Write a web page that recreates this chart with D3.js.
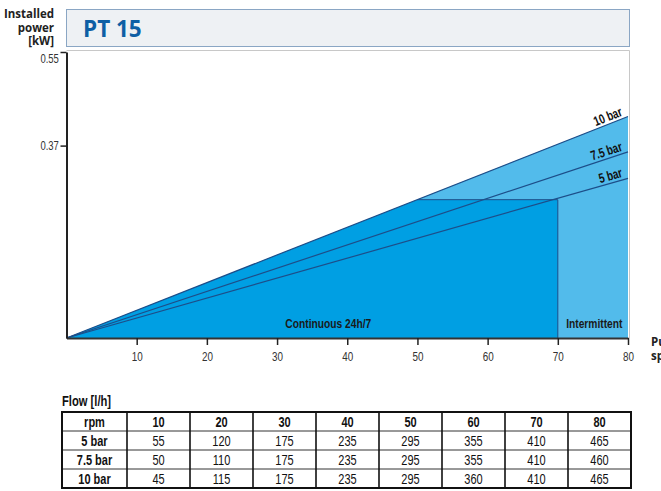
<!DOCTYPE html>
<html><head><meta charset="utf-8">
<script src="https://cdn.jsdelivr.net/npm/d3@7"></script>
<style>
body{margin:0;background:#fff;}
svg{display:block;}
</style></head>
<body><svg id="c" width="661" height="491"></svg>
<script>
// ---- data ----
const chartTitle = "PT 15";
const xTicks = [10, 20, 30, 40, 50, 60, 70, 80];
const yTicks = [0.37, 0.55];
const seriesNames = ["10 bar", "7.5 bar", "5 bar"];
const seriesPowerAt0 = [0, 0, 0];
const seriesPowerAt80 = [0.426, 0.358, 0.307];
const continuousKneeRpm = 50;
const continuousEndRpm = 70;
const continuousPower = 0.266;
const zoneLabels = ["Continuous 24h/7", "Intermittent"];
const tableRowNames = ["5 bar", "7.5 bar", "10 bar"];
const flow5 = [55, 120, 175, 235, 295, 355, 410, 465];
const flow75 = [50, 110, 175, 235, 295, 355, 410, 460];
const flow10 = [45, 115, 175, 235, 295, 360, 410, 465];

// ---- drawing ----
const svg = d3.select("#c");
const cond = "'Liberation Sans','DejaVu Sans',sans-serif";
const SX = 0.76; // horizontal condensing
const x = d3.scaleLinear().domain([0, 80]).range([66.5, 628]);
const y = d3.scaleLinear().domain([0, 0.55]).range([338, 52]);

const darkFill = "#009fe3", lightFill = "#52bbeb", lineCol = "#1d4e89";

function ctext(parent, px, py, t, opts) {
  opts = opts || {};
  return parent.append("text")
    .attr("transform", `translate(${px},${py})${opts.rot ? ` rotate(${opts.rot})` : ""} scale(${opts.sx || SX},1)`)
    .attr("text-anchor", opts.anchor || "start")
    .attr("font-family", cond).attr("font-weight", opts.bold ? "bold" : "normal")
    .attr("font-size", opts.size || 12).attr("fill", opts.fill || "#111").text(t);
}

// header
svg.append("rect").attr("x", 66.5).attr("y", 9.5).attr("width", 563).attr("height", 37)
  .attr("fill", "#eef1f4").attr("stroke", "#8aa6c4").attr("stroke-width", 1);
svg.append("text").attr("x", 83).attr("y", 37).text(chartTitle)
  .attr("font-family", "'Open Sans',sans-serif").attr("font-weight", "bold")
  .attr("font-size", 22.5).attr("fill", "#0e5fa5");

// y title
["Installed", "power", "[kW]"].forEach((t, i) => {
  svg.append("text").attr("x", 54).attr("y", 18 + i * 13.5).attr("text-anchor", "end")
    .attr("font-family", "'Open Sans',sans-serif").attr("font-weight", "bold")
    .attr("font-size", 11.5).attr("fill", "#222").text(t);
});

// plot frame (top + right)
svg.append("path").attr("d", `M${x(0)},50.5H${x(80) + 1.5}V${y(0)}`)
  .attr("fill", "none").attr("stroke", "#c8c8c8").attr("stroke-width", 1);

const topEnd = d3.max(seriesPowerAt80);
// light (intermittent) area
svg.append("path")
  .attr("d", d3.line()([[x(0), y(0)], [x(80), y(topEnd)], [x(80), y(0)]]) + "Z")
  .attr("fill", lightFill);
// dark (continuous) area
svg.append("path")
  .attr("d", d3.line()([[x(0), y(0)], [x(continuousKneeRpm), y(continuousPower)],
    [x(continuousEndRpm), y(continuousPower)], [x(continuousEndRpm), y(0)]]) + "Z")
  .attr("fill", darkFill);
// continuous boundary
svg.append("path")
  .attr("d", d3.line()([[x(continuousKneeRpm), y(continuousPower)],
    [x(continuousEndRpm), y(continuousPower)], [x(continuousEndRpm), y(0)]]))
  .attr("fill", "none").attr("stroke", lineCol).attr("stroke-width", 1);

// series lines + labels
seriesNames.forEach((n, i) => {
  const x0 = x(0), y0 = y(seriesPowerAt0[i]), x1 = x(80), y1 = y(seriesPowerAt80[i]);
  svg.append("line").attr("x1", x0).attr("y1", y0).attr("x2", x1).attr("y2", y1)
    .attr("stroke", lineCol).attr("stroke-width", 1.2);
  const ang = Math.atan2(y1 - y0, x1 - x0) * 180 / Math.PI;
  const lx = x(79.3), ly = y(seriesPowerAt80[i] * 79.3 / 80) - 3;
  ctext(svg, lx, ly, n, {rot: ang, anchor: "end", bold: true, size: 13.5, sx: 0.74});
});

// zone labels
ctext(svg, x(37.3), 328, zoneLabels[0], {anchor: "middle", bold: true, size: 13.5, fill: "#1a1a1a"});
ctext(svg, x(75.2), 328, zoneLabels[1], {anchor: "middle", bold: true, size: 13.5, fill: "#1a1a1a"});

// x axis
const gx = svg.append("g").attr("transform", `translate(0,${y(0)})`)
  .call(d3.axisBottom(x).tickValues(xTicks).tickSize(7).tickSizeOuter(0).tickPadding(7));
gx.select(".domain").attr("stroke", "#333").attr("stroke-width", 2);
gx.selectAll(".tick line").attr("stroke", "#222").attr("stroke-width", 1.5);
gx.selectAll(".tick text").attr("font-family", cond).attr("font-size", 13)
  .attr("fill", "#333").attr("transform", `scale(${SX},1)`);

// y axis
const gy = svg.append("g").attr("transform", `translate(${x(0)},0)`)
  .call(d3.axisLeft(y).tickValues(yTicks).tickSize(6).tickSizeOuter(0).tickPadding(4).tickFormat(d3.format(".2f")));
gy.select(".domain").attr("stroke", "#222").attr("stroke-width", 2);
gy.selectAll(".tick line").attr("stroke", "#222").attr("stroke-width", 1.5);
gy.selectAll(".tick text").attr("font-family", cond).attr("font-size", 12.5)
  .attr("fill", "#333").attr("transform", `scale(${SX},1)`)
  .attr("dy", d => d === 0.55 ? "0.85em" : "0.35em");

// x title (cut off at the right edge, as in the reference)
["Pump", "speed"].forEach((t, i) => {
  svg.append("text").attr("x", 651).attr("y", 346 + i * 13.5)
    .attr("font-family", "'Open Sans',sans-serif").attr("font-weight", "bold")
    .attr("font-size", 11.5).attr("fill", "#222").text(t);
});

// table
ctext(svg, 62, 406, "Flow [l/h]", {bold: true, size: 14, sx: 0.8});
const tx0 = 62, c1w = 65, cw = 63, ty0 = 412, rh = 19;
const rows = [["rpm", ...xTicks], [tableRowNames[0], ...flow5], [tableRowNames[1], ...flow75], [tableRowNames[2], ...flow10]];
const colX = i => i === 0 ? tx0 : tx0 + c1w + (i - 1) * cw;
const colW = i => i === 0 ? c1w : cw;
const tw = c1w + 8 * cw;
const tg = svg.append("g");
rows.forEach((r, ri) => {
  r.forEach((v, ci) => {
    ctext(tg, colX(ci) + colW(ci) / 2, ty0 + ri * rh + 14.5, v,
      {anchor: "middle", bold: (ri === 0 || ci === 0), size: 14.5});
  });
  if (ri > 0) tg.append("line").attr("x1", tx0).attr("x2", tx0 + tw)
    .attr("y1", ty0 + ri * rh).attr("y2", ty0 + ri * rh).attr("stroke", "#333").attr("stroke-width", 1);
});
for (let ci = 1; ci < 9; ci++) {
  tg.append("line").attr("x1", colX(ci)).attr("x2", colX(ci)).attr("y1", ty0).attr("y2", ty0 + 4 * rh)
    .attr("stroke", "#111").attr("stroke-width", 1.6);
}
tg.append("rect").attr("x", tx0).attr("y", ty0).attr("width", tw).attr("height", 4 * rh)
  .attr("fill", "none").attr("stroke", "#111").attr("stroke-width", 2);
</script></body></html>
